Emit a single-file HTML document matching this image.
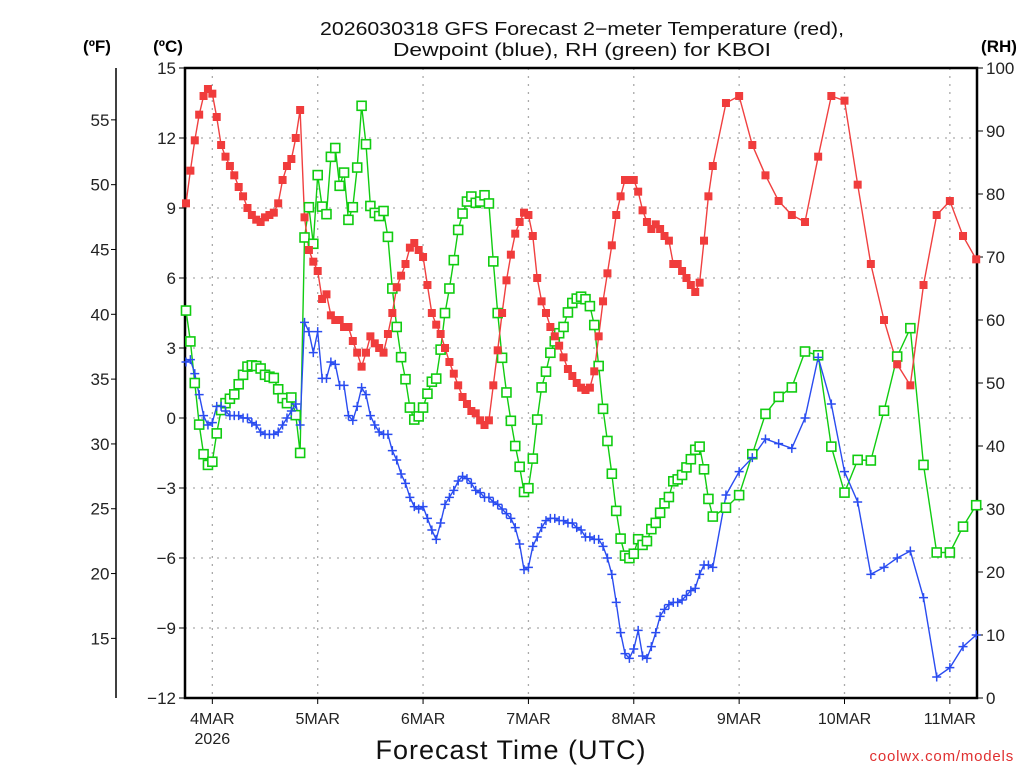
<!DOCTYPE html>
<html><head><meta charset="utf-8"><style>
html,body{margin:0;padding:0;background:#fff;}
svg{display:block;font-family:"Liberation Sans",sans-serif;}
</style></head><body>
<svg id="chart" width="1024" height="768" viewBox="0 0 1024 768" xmlns="http://www.w3.org/2000/svg">
<g fill="#111" font-size="18" text-anchor="middle">
<text x="582" y="35" textLength="524" lengthAdjust="spacingAndGlyphs">2026030318 GFS Forecast 2−meter Temperature (red),</text>
<text x="582" y="56" textLength="378" lengthAdjust="spacingAndGlyphs">Dewpoint (blue), RH (green) for KBOI</text>
</g>
<text x="97" y="52" font-size="17" font-weight="bold" text-anchor="middle">(ºF)</text>
<text x="168" y="52" font-size="17" font-weight="bold" text-anchor="middle">(ºC)</text>
<text x="999" y="52" font-size="17" font-weight="bold" text-anchor="middle">(RH)</text>
<g id="grid"></g>
<g id="axes"></g>
<g id="series"></g>
<text x="511" y="759" font-size="27" text-anchor="middle" fill="#111" letter-spacing="1">Forecast Time (UTC)</text>
<text x="1014" y="761" font-size="15" text-anchor="end" fill="#e03030" letter-spacing="0.8">coolwx.com/models</text>
</svg>
<script>
const hours = [0,1,2,3,4,5,6,7,8,9,10,11,12,13,14,15,16,17,18,19,20,21,22,23,24,25,26,27,28,29,30,31,32,33,34,35,36,37,38,39,40,41,42,43,44,45,46,47,48,49,50,51,52,53,54,55,56,57,58,59,60,61,62,63,64,65,66,67,68,69,70,71,72,73,74,75,76,77,78,79,80,81,82,83,84,85,86,87,88,89,90,91,92,93,94,95,96,97,98,99,100,101,102,103,104,105,106,107,108,109,110,111,112,113,114,115,116,117,118,119,120,123,126,129,132,135,138,141,144,147,150,153,156,159,162,165,168,171,174,177,180];
const tempC = [9.2,10.6,11.9,13.0,13.8,14.1,13.9,12.9,11.7,11.2,10.8,10.4,9.9,9.5,9.0,8.7,8.5,8.4,8.6,8.7,8.8,9.2,10.2,10.8,11.1,12.0,13.2,8.6,7.2,6.7,6.3,5.1,5.3,4.4,4.2,4.2,3.9,3.9,3.3,2.8,2.2,2.8,3.5,3.2,3.0,2.8,3.6,4.5,5.6,6.1,6.6,7.3,7.5,7.2,6.9,5.7,4.5,4.0,3.6,3.0,2.4,1.9,1.4,0.9,0.6,0.3,0.2,-0.1,-0.3,-0.1,1.4,2.9,4.5,5.9,7.0,7.9,8.4,8.8,8.7,7.8,6.0,5.0,4.5,3.9,3.5,3.1,2.6,2.1,1.8,1.5,1.3,1.2,1.3,2.0,3.5,5.0,6.2,7.4,8.7,9.5,10.2,10.2,10.2,9.7,8.9,8.4,8.1,8.3,8.1,7.8,7.6,6.6,6.6,6.3,6.0,5.7,5.4,5.8,7.6,9.5,10.8,13.5,13.8,11.7,10.4,9.3,8.7,8.4,11.2,13.8,13.6,10.0,6.6,4.2,2.3,1.4,5.7,8.7,9.3,7.8,6.8];
const dewC = [2.4,2.5,1.9,1.0,0.1,-0.3,-0.2,0.5,0.5,0.3,0.1,0.1,0.1,0.0,0.0,-0.2,-0.3,-0.6,-0.7,-0.7,-0.7,-0.6,-0.3,0.0,0.3,0.6,-0.3,4.1,3.7,2.8,3.7,1.7,1.7,2.4,2.3,1.4,1.4,0.1,-0.1,0.5,1.3,1.0,0.1,-0.3,-0.6,-0.7,-0.7,-1.4,-1.8,-2.4,-2.8,-3.4,-3.8,-3.9,-3.8,-4.3,-4.8,-5.2,-4.5,-3.7,-3.4,-3.1,-2.7,-2.5,-2.6,-2.8,-3.1,-3.2,-3.4,-3.4,-3.6,-3.7,-3.9,-4.1,-4.3,-4.7,-5.4,-6.5,-6.4,-5.5,-5.1,-4.7,-4.4,-4.3,-4.3,-4.4,-4.4,-4.5,-4.5,-4.7,-4.8,-5.1,-5.1,-5.2,-5.2,-5.5,-6.0,-6.7,-7.9,-9.2,-10.1,-10.3,-9.9,-9.1,-10.2,-10.3,-9.8,-9.2,-8.5,-8.2,-8.0,-7.9,-7.9,-7.8,-7.6,-7.4,-7.3,-6.7,-6.3,-6.3,-6.4,-3.3,-2.3,-1.7,-0.9,-1.1,-1.3,0.0,2.6,0.6,-2.3,-3.6,-6.7,-6.4,-6.0,-5.7,-7.7,-11.1,-10.7,-9.8,-9.3];
const rhPct = [61.5,56.6,50.0,43.4,38.7,37.0,37.5,42.0,45.7,46.8,47.5,48.2,49.8,51.3,52.6,52.8,52.7,52.3,51.3,51.0,50.8,49.0,47.6,46.8,47.7,44.9,38.9,73.1,77.9,72.1,83.0,78.0,76.8,85.9,87.3,81.3,83.4,75.9,77.9,84.2,94.0,87.9,78.1,77.0,76.5,77.3,73.2,65.0,58.9,54.1,50.6,46.1,44.2,44.7,46.1,48.3,50.2,50.7,55.3,61.1,65.0,69.5,74.3,76.9,78.8,79.6,78.6,78.8,79.8,78.5,69.3,61.1,54.0,48.5,44.0,40.0,36.7,32.7,33.3,38.0,44.2,49.3,51.8,54.8,56.6,57.9,58.9,61.2,62.7,63.4,63.7,63.3,62.2,59.2,52.7,45.9,40.8,35.6,29.7,25.3,22.6,22.2,22.9,25.2,24.3,24.9,26.8,27.8,29.4,30.9,31.9,34.4,34.7,35.4,36.6,37.9,39.4,39.9,36.3,31.6,28.8,30.2,32.2,38.7,45.1,47.8,49.3,55.0,54.4,39.9,32.6,37.8,37.7,45.6,54.2,58.7,37.0,23.1,23.1,27.2,30.6];
const cTicks = [15,12,9,6,3,0,-3,-6,-9,-12];
const cTickLabels = ["15","12","9","6","3","0","−3","−6","−9","−12"];
const fTicks = [55,50,45,40,35,30,25,20,15];
const rhTicks = [100,90,80,70,60,50,40,30,20,10,0];
const dayHours = [6,30,54,78,102,126,150,174];
const dayLabels = ["4MAR","5MAR","6MAR","7MAR","8MAR","9MAR","10MAR","11MAR"];

const NS = "http://www.w3.org/2000/svg";
const L = 185, R = 977, T = 68, B = 698;
const xS = h => 186 + h * 4.39;
const yC = c => T + (15 - c) * (B - T) / 27;
const yRH = r => B - r * (B - T) / 100;
const yF = f => yC((f - 32) * 5 / 9);
function mk(tag, attrs, parent){ const e = document.createElementNS(NS, tag); for (const k in attrs) e.setAttribute(k, attrs[k]); parent.appendChild(e); return e; }

const grid = document.getElementById('grid');
const axes = document.getElementById('axes');
const series = document.getElementById('series');

cTicks.forEach((c, i) => {
  const y = yC(c);
  if (i > 0 && i < cTicks.length - 1) {
    const g = mk('line', {x1:L, x2:R, y1:y, y2:y, stroke:'#aaa', 'stroke-width':1.3, 'stroke-dasharray':'2 6'}, grid);
    
    
  }
  const t = mk('line', {x1:L-6, x2:L, y1:y, y2:y, stroke:'#000', 'stroke-width':1}, axes);
  
  
  const lb = mk('text', {x:L-9, y:y+6, 'font-size':17, 'text-anchor':'end', fill:'#222'}, axes);
  
  
  lb.textContent = cTickLabels[i];
});
dayHours.forEach((h, i) => {
  const x = xS(h);
  const g = mk('line', {x1:x, x2:x, y1:T, y2:B, stroke:'#aaa', 'stroke-width':1.3, 'stroke-dasharray':'2 6'}, grid);
  
  
  const t = mk('line', {x1:x, x2:x, y1:B, y2:B+6, stroke:'#000', 'stroke-width':1}, axes);
  
  
  const lb = mk('text', {x:x, y:B+26, 'font-size':16, 'text-anchor':'middle', fill:'#222'}, axes);
  
  
  lb.textContent = dayLabels[i];
});
const yr = mk('text', {x:xS(6), y:B+46, 'font-size':16, 'text-anchor':'middle', fill:'#222'}, axes);


yr.textContent = '2026';

const fl = mk('line', {x1:116, x2:116, y1:T, y2:B, stroke:'#000', 'stroke-width':1.5}, axes);


fTicks.forEach(f => {
  const y = yF(f);
  const t = mk('line', {x1:111, x2:116, y1:y, y2:y, stroke:'#000', 'stroke-width':1}, axes);
  
  
  const lb = mk('text', {x:100, y:y+6, 'font-size':17, 'text-anchor':'middle', fill:'#222'}, axes);
  
  
  lb.textContent = String(f);
});
rhTicks.forEach(r => {
  const y = yRH(r);
  const t = mk('line', {x1:R, x2:R+6, y1:y, y2:y, stroke:'#000', 'stroke-width':1}, axes);
  
  
  const lb = mk('text', {x:R+9, y:y+6, 'font-size':17, 'text-anchor':'start', fill:'#222'}, axes);
  
  
  lb.textContent = String(r);
});
const frame = mk('rect', {x:L, y:T, width:R-L, height:B-T, fill:'none', stroke:'#000', 'stroke-width':2.5}, axes);



function drawLine(vals, yf, color, name){
  const pts = hours.map((h, i) => xS(h).toFixed(1) + ',' + yf(vals[i]).toFixed(1)).join(' ');
  const pl = mk('polyline', {points:pts, fill:'none', stroke:color, 'stroke-width':1.4}, series);
  
  
}
drawLine(rhPct, yRH, '#11cc11', 'rh-line');
drawLine(dewC, yC, '#2a4cf0', 'dewpoint-line');
drawLine(tempC, yC, '#f04040', 'temperature-line');

hours.forEach((h, i) => {
  const x = xS(h), y = yRH(rhPct[i]);
  const m = mk('rect', {x:x-4.5, y:y-4.5, width:9, height:9, fill:'#fff', stroke:'#11cc11', 'stroke-width':1.6}, series);
  
  
});
hours.forEach((h, i) => {
  const x = xS(h), y = yC(dewC[i]);
  const m = mk('path', {d:`M${x-4.5},${y}H${x+4.5}M${x},${y-4.5}V${y+4.5}`, stroke:'#2a4cf0', 'stroke-width':1.5, fill:'none'}, series);
  
  
});
hours.forEach((h, i) => {
  const x = xS(h), y = yC(tempC[i]);
  const m = mk('rect', {x:x-4, y:y-4, width:8, height:8, fill:'#f03c3c'}, series);
  
  
});
</script>
</body></html>
